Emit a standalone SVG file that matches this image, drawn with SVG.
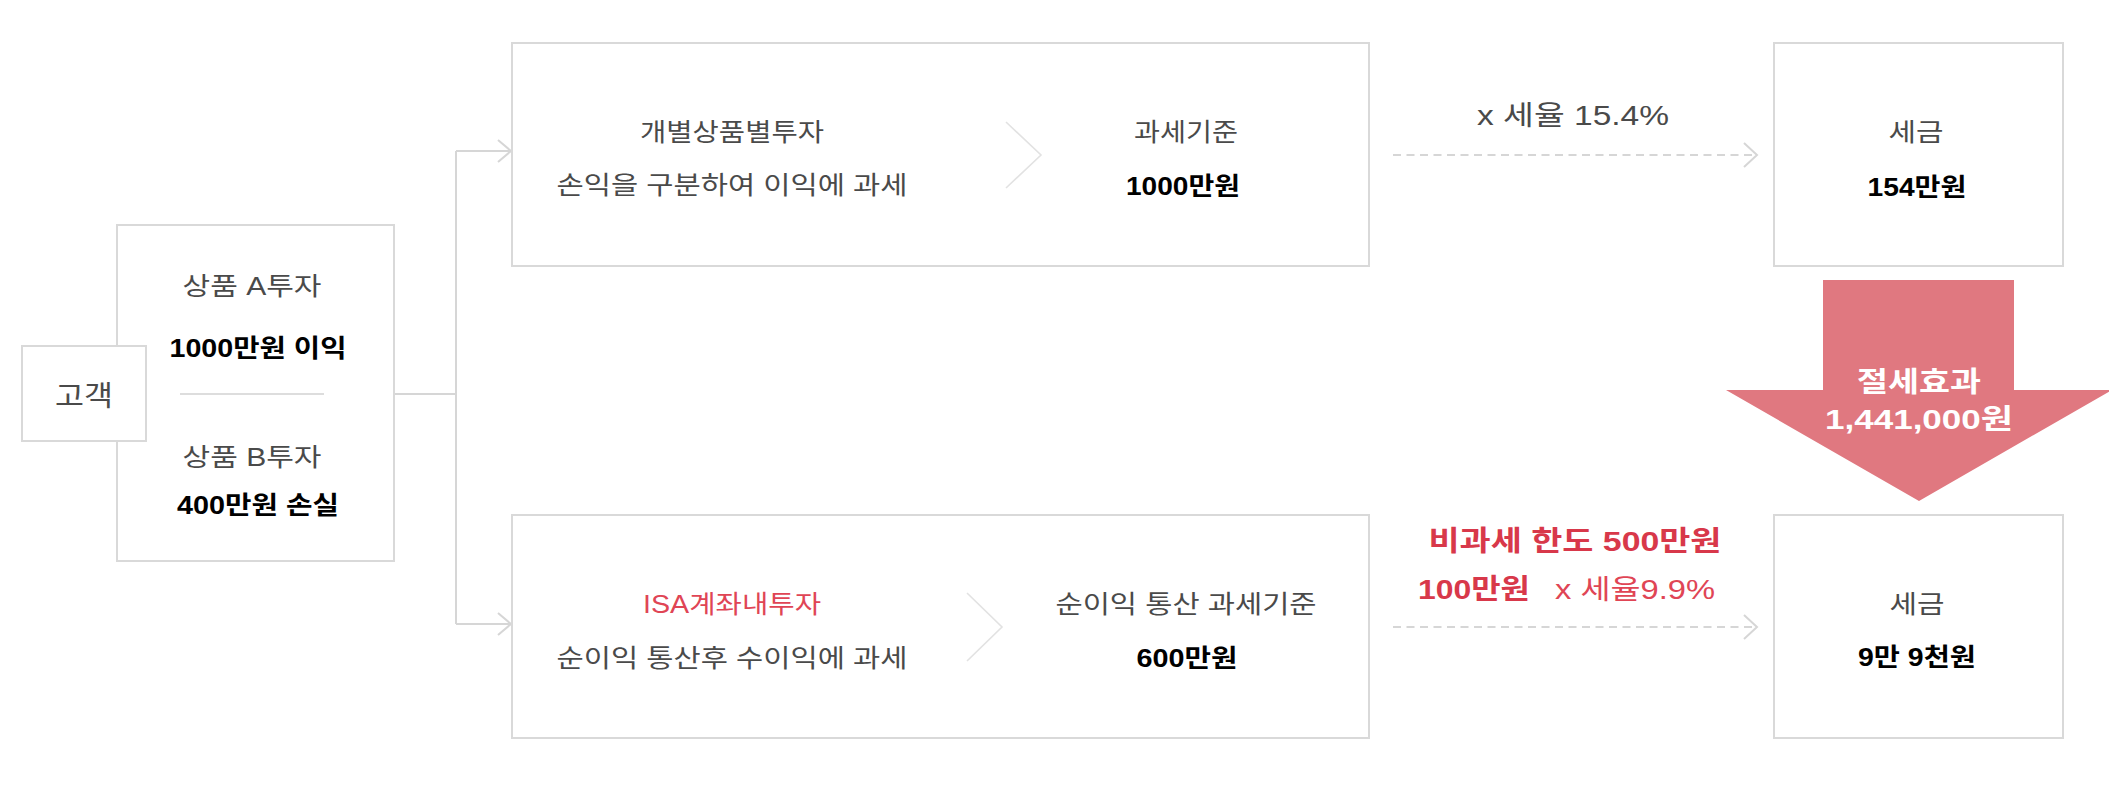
<svg xmlns="http://www.w3.org/2000/svg" width="2109" height="795" viewBox="0 0 2109 795">
<style>
  .box { fill: #ffffff; stroke: #d9d9d9; stroke-width: 2; }
  .ln { fill: none; stroke: #d6d6d6; stroke-width: 2; }
  .dash { fill: none; stroke: #d6d6d6; stroke-width: 2; stroke-dasharray: 8 5.5; }
  .chev { fill: none; stroke: #e2e2e2; stroke-width: 1.6; }
  text { font-family: "Liberation Sans", "Noto Sans CJK KR", sans-serif; text-anchor: middle; }
  .g { fill: #4a4a4a; font-size: 25px; }
  .b { fill: #000000; font-size: 25px; font-weight: bold; }
  .r { fill: #d8384a; font-size: 28px; font-weight: bold; }
  .rl { fill: #e04555; font-size: 25px; }
  .w { fill: #ffffff; font-size: 28px; font-weight: bold; }
</style>
<rect width="2109" height="795" fill="#ffffff"/>

<g id="connectors">
  <path class="ln" d="M394,394 H456 M456,151 V624 M456,151 H511 M456,624 H511"/>
  <path class="ln" d="M498,140 L511,151 L498,162"/>
  <path class="ln" d="M498,613 L511,624 L498,635"/>
  <path class="dash" d="M1393,155 H1755"/>
  <path class="ln" d="M1744,143 L1757,155 L1744,167"/>
  <path class="dash" d="M1393,627 H1755"/>
  <path class="ln" d="M1744,615 L1757,627 L1744,639"/>
</g>

<g id="products">
  <rect class="box" x="117" y="225" width="277" height="336"/>
  <text class="g" x="252" y="295" textLength="139" lengthAdjust="spacingAndGlyphs">상품 A투자</text>
  <text class="b" x="258" y="357" textLength="177" lengthAdjust="spacingAndGlyphs">1000만원 이익</text>
  <line x1="180" y1="394" x2="324" y2="394" stroke="#dddddd" stroke-width="2"/>
  <text class="g" x="252" y="466" textLength="139" lengthAdjust="spacingAndGlyphs">상품 B투자</text>
  <text class="b" x="258" y="514" textLength="162" lengthAdjust="spacingAndGlyphs">400만원 손실</text>
</g>

<g id="customer">
  <rect class="box" x="22" y="346" width="124" height="95"/>
  <text class="g" x="84" y="406" style="font-size:28px" textLength="58" lengthAdjust="spacingAndGlyphs">고객</text>
</g>

<g id="individual">
  <rect class="box" x="512" y="43" width="857" height="223"/>
  <text class="g" x="732" y="141" textLength="184" lengthAdjust="spacingAndGlyphs">개별상품별투자</text>
  <text class="g" x="732" y="194" textLength="351" lengthAdjust="spacingAndGlyphs">손익을 구분하여 이익에 과세</text>
  <path class="chev" d="M1006,122 L1041,155 L1006,188"/>
  <text class="g" x="1186" y="141" textLength="104" lengthAdjust="spacingAndGlyphs">과세기준</text>
  <text class="b" x="1183" y="195" textLength="114" lengthAdjust="spacingAndGlyphs">1000만원</text>
</g>

<g id="isa">
  <rect class="box" x="512" y="515" width="857" height="223"/>
  <text class="rl" x="732" y="613" textLength="178" lengthAdjust="spacingAndGlyphs">ISA계좌내투자</text>
  <text class="g" x="732" y="667" textLength="351" lengthAdjust="spacingAndGlyphs">순이익 통산후 수이익에 과세</text>
  <path class="chev" d="M967,593 L1002,627 L967,661"/>
  <text class="g" x="1186" y="613" textLength="261" lengthAdjust="spacingAndGlyphs">순이익 통산 과세기준</text>
  <text class="b" x="1187" y="667" textLength="101" lengthAdjust="spacingAndGlyphs">600만원</text>
</g>

<g id="rate-top">
  <text class="g" x="1573" y="125" style="font-size:27px" textLength="192" lengthAdjust="spacingAndGlyphs">x 세율 15.4%</text>
</g>

<g id="tax-top">
  <rect class="box" x="1774" y="43" width="289" height="223"/>
  <text class="g" x="1916" y="141" textLength="55" lengthAdjust="spacingAndGlyphs">세금</text>
  <text class="b" x="1917" y="196" textLength="99" lengthAdjust="spacingAndGlyphs">154만원</text>
</g>

<g id="saving">
  <polygon points="1823,280 2014,280 2014,390 2112,390 1919,501 1726,390 1823,390" fill="#e07880"/>
  <text class="w" x="1919" y="392" textLength="124" lengthAdjust="spacingAndGlyphs">절세효과</text>
  <text class="w" x="1919" y="429" textLength="188" lengthAdjust="spacingAndGlyphs">1,441,000원</text>
</g>

<g id="rate-bottom">
  <text class="r" x="1575" y="551" textLength="293" lengthAdjust="spacingAndGlyphs">비과세 한도 500만원</text>
  <text class="r" x="1474" y="599" textLength="112" lengthAdjust="spacingAndGlyphs">100만원</text>
  <text class="rl" x="1635" y="599" style="font-size:27px" textLength="160" lengthAdjust="spacingAndGlyphs">x 세율9.9%</text>
</g>

<g id="tax-bottom">
  <rect class="box" x="1774" y="515" width="289" height="223"/>
  <text class="g" x="1917" y="613" textLength="55" lengthAdjust="spacingAndGlyphs">세금</text>
  <text class="b" x="1917" y="666" textLength="118" lengthAdjust="spacingAndGlyphs">9만 9천원</text>
</g>
</svg>
